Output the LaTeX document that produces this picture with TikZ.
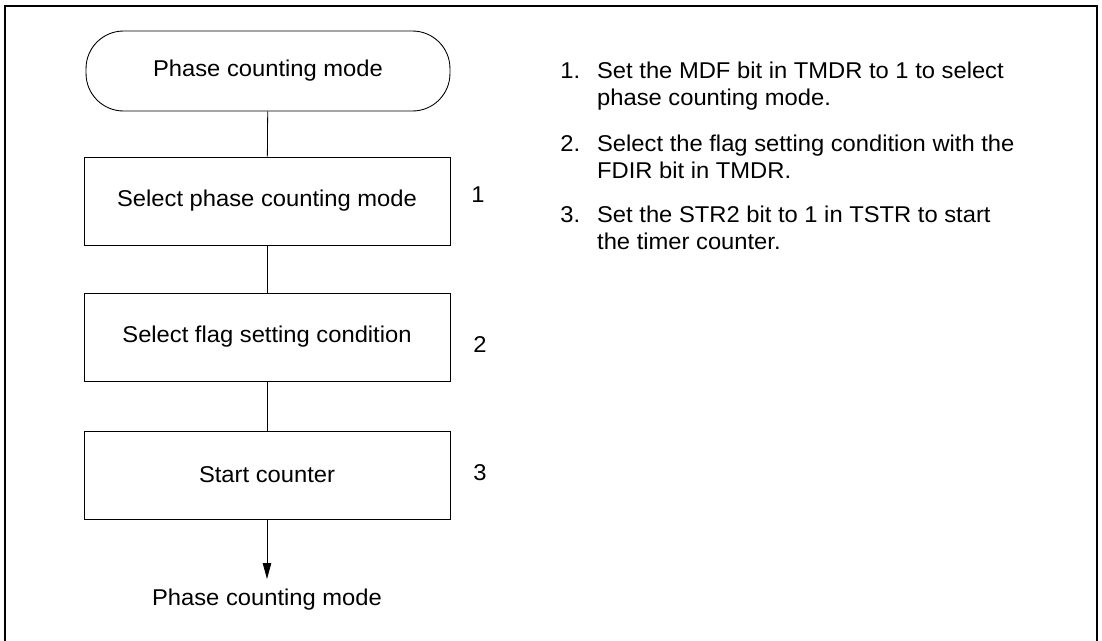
\documentclass[tikz,border=0pt]{standalone}
\usepackage{fontspec}
\setmainfont{Liberation Sans}[FakeStretch=1.04]
\usetikzlibrary{arrows.meta,positioning}

\begin{document}
\begin{tikzpicture}[
  x=0.02cm, y=-0.02cm,
  every node/.style={font=\fontsize{13}{15.5}\selectfont},
  terminal/.style={draw, line width=0.5pt, rounded corners=0.75cm,
    minimum width=7.28cm, minimum height=1.6cm, inner sep=0pt},
  procbox/.style={draw, line width=0.5pt, minimum width=7.32cm,
    minimum height=1.76cm, inner sep=0pt},
  flowline/.style={line width=0.45pt},
  stepnum/.style={inner sep=0pt}
]
  \useasboundingbox (0,0) rectangle (1102,640);
  % outer frame, open at the bottom
  \draw[line width=1.3pt] (5,650) -- (5,6) -- (1097,6) -- (1097,650);

  % flow chart
  \node[terminal] (start) at (268,71) {Phase counting mode};
  \node[procbox] (selmode) at (267,201) {Select phase counting mode};
  \node[procbox] (selflag) at (267,337) {Select flag setting condition};
  \node[procbox] (startcnt) at (267,475) {Start counter};
  \node[inner sep=0pt] (endtxt) at (267,600) {Phase counting mode};

  \draw[flowline] (start) -- (selmode);
  \draw[flowline] (selmode) -- (selflag);
  \draw[flowline] (selflag) -- (startcnt);
  \draw[flowline, -{Triangle[length=0.32cm, width=0.17cm]}]
    (startcnt) -- (267,579);

  % step numbers
  \node[stepnum] (n1) at (478,195) {1};
  \node[stepnum] (n2) at (480,345) {2};
  \node[stepnum] (n3) at (480,473) {3};

  % notes
  \node[anchor=base west, inner sep=0pt] (note1) at (560,78)
    {\begin{tabular}[t]{@{}l@{\hspace{0.34cm}}l@{}}
      1. & Set the MDF bit in TMDR to 1 to select\\
         & phase counting mode.
    \end{tabular}};
  \node[anchor=base west, inner sep=0pt] (note2) at (560,151)
    {\begin{tabular}[t]{@{}l@{\hspace{0.34cm}}l@{}}
      2. & Select the flag setting condition with the\\
         & FDIR bit in TMDR.
    \end{tabular}};
  \node[anchor=base west, inner sep=0pt] (note3) at (560,222)
    {\begin{tabular}[t]{@{}l@{\hspace{0.34cm}}l@{}}
      3. & Set the STR2 bit to 1 in TSTR to start\\
         & the timer counter.
    \end{tabular}};
\end{tikzpicture}
\end{document}
